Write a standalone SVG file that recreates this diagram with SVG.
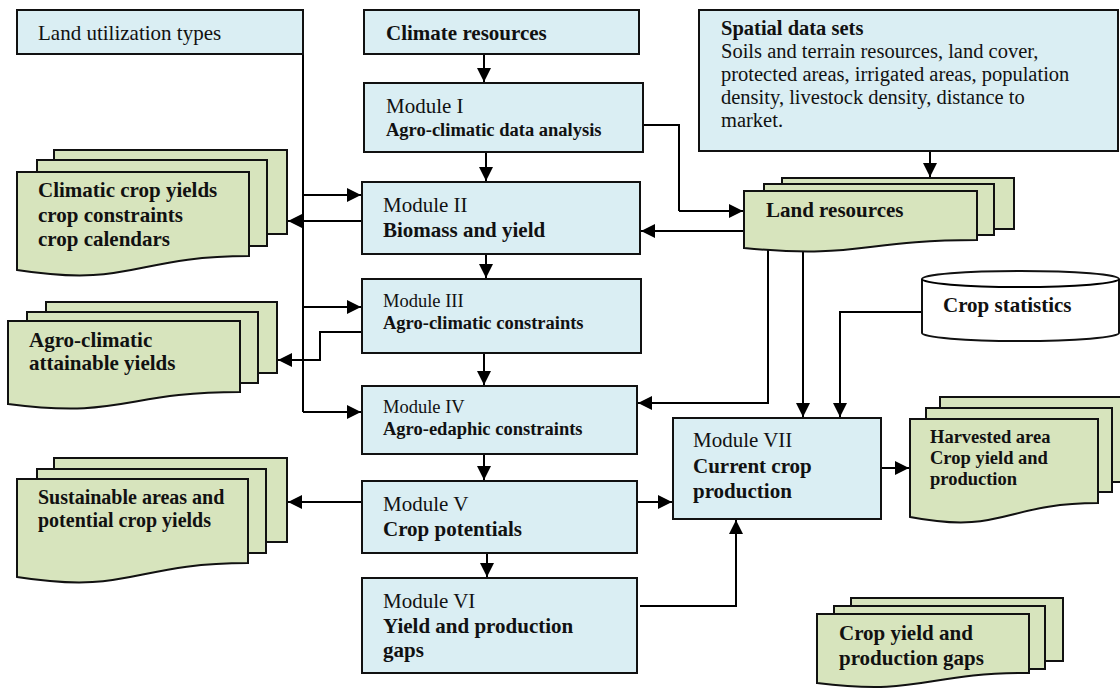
<svg xmlns="http://www.w3.org/2000/svg" width="1120" height="689" viewBox="0 0 1120 689">
<defs>
<marker id="ah" markerUnits="userSpaceOnUse" markerWidth="15" markerHeight="14" refX="14" refY="7" orient="auto">
<path d="M0,0 L14,7 L0,14 Z" fill="#000"/>
</marker>
<style>
.box{fill:#DAEEF3;stroke:#111;stroke-width:2}
.doc{fill:#D7E4BD;stroke:#111;stroke-width:2;stroke-linejoin:miter}
.cyl{fill:#fff;stroke:#111;stroke-width:2}
.ln{fill:none;stroke:#000;stroke-width:2}
.arr{fill:none;stroke:#000;stroke-width:2;marker-end:url(#ah)}
text{font-family:"Liberation Serif","Times New Roman",serif;fill:#111}
.r{font-size:21px}
.b{font-size:21px;font-weight:bold}
.rs{font-size:18.5px}
.bs{font-size:18.5px;font-weight:bold}
.sp{font-size:20.5px}
</style>
</defs>
<rect width="1120" height="689" fill="#fff"/>

<g id="connectors">
<path class="arr" d="M484,54 V82"/>
<path class="arr" d="M486,152 V181"/>
<path class="ln" d="M643,125 H679 V211"/>
<path class="arr" d="M679,211 H743"/>
<path class="arr" d="M744,231 H641"/>
<path class="ln" d="M303,54 V412"/>
<path class="arr" d="M303,195 H361"/>
<path class="arr" d="M303,307 H361"/>
<path class="arr" d="M303,412 H361"/>
<path class="arr" d="M362,221 H288"/>
<path class="arr" d="M362,332 H320 V360 H278"/>
<path class="arr" d="M768,250 V403 H638"/>
<path class="arr" d="M803,252 V417"/>
<path class="arr" d="M922,312 H840 V417"/>
<path class="arr" d="M486,254 V278"/>
<path class="arr" d="M484,353 V385"/>
<path class="arr" d="M484,454 V480"/>
<path class="arr" d="M487,553 V577"/>
<path class="arr" d="M362,502 H288"/>
<path class="arr" d="M637,502 H672"/>
<path class="arr" d="M640,606 H736 V520"/>
<path class="arr" d="M930,151 V177"/>
<path class="arr" d="M881,468 H909"/>
</g>

<g id="land-utilization-types">
<rect class="box" x="17" y="10" width="286" height="44"/>
<text class="r" x="38" y="40">Land utilization types</text>
</g>

<g id="climate-resources">
<rect class="box" x="364" y="10" width="275" height="44"/>
<text class="b" x="386" y="40">Climate resources</text>
</g>

<g id="spatial-data-sets">
<rect class="box" x="699" y="10" width="419" height="141"/>
<text class="sp" x="721" y="35" font-weight="bold">Spatial data sets</text>
<text class="sp" x="721" y="58">Soils and terrain resources, land cover,</text>
<text class="sp" x="721" y="81">protected areas, irrigated areas, population</text>
<text class="sp" x="721" y="104">density, livestock density, distance to</text>
<text class="sp" x="721" y="127">market.</text>
</g>

<g id="module-1">
<rect class="box" x="364" y="83" width="279" height="69"/>
<text class="r" x="386" y="113">Module I</text>
<text class="bs" x="386" y="136">Agro-climatic data analysis</text>
</g>

<g id="module-2">
<rect class="box" x="362" y="182" width="278" height="72"/>
<text class="r" x="383" y="212">Module II</text>
<text class="b" x="383" y="237">Biomass and yield</text>
</g>

<g id="module-3">
<rect class="box" x="362" y="279" width="279" height="74"/>
<text class="rs" x="383" y="307">Module III</text>
<text class="bs" x="383" y="329">Agro-climatic constraints</text>
</g>

<g id="module-4">
<rect class="box" x="362" y="386" width="275" height="68"/>
<text class="rs" x="383" y="413">Module IV</text>
<text class="bs" x="383" y="435">Agro-edaphic constraints</text>
</g>

<g id="module-5">
<rect class="box" x="362" y="481" width="275" height="72"/>
<text class="r" x="383" y="511">Module V</text>
<text class="b" x="383" y="536">Crop potentials</text>
</g>

<g id="module-6">
<rect class="box" x="362" y="578" width="275" height="95"/>
<text class="r" x="383" y="608">Module VI</text>
<text class="b" x="383" y="633">Yield and production</text>
<text class="b" x="383" y="657">gaps</text>
</g>

<g id="module-7">
<rect class="box" x="673" y="418" width="208" height="101"/>
<text class="r" x="693" y="447">Module VII</text>
<text class="b" x="693" y="473">Current crop</text>
<text class="b" x="693" y="498">production</text>
</g>

<g id="land-resources">
<rect class="doc" x="782" y="178" width="232" height="51"/>
<rect class="doc" x="764" y="184" width="230" height="51"/>
<path class="doc" d="M744,191 H977 V240 C860,240 860,259 744,248 Z"/>
<text class="b" x="766" y="217">Land resources</text>
</g>

<g id="crop-statistics">
<path class="cyl" d="M922,279 A98.5,8 0 0 1 1119,279 V333 A98.5,8 0 0 1 922,333 Z"/>
<path class="ln" d="M922,279 A98.5,8 0 0 0 1119,279"/>
<text class="b" x="943" y="312">Crop statistics</text>
</g>

<g id="climatic-crop-yields">
<rect class="doc" x="54" y="150" width="233" height="84"/>
<rect class="doc" x="37" y="160" width="230" height="86"/>
<path class="doc" d="M17,172 H249 V256 C133,256 133,288 17,270 Z"/>
<text class="b" x="38" y="197">Climatic crop yields</text>
<text class="b" x="38" y="222">crop constraints</text>
<text class="b" x="38" y="246">crop calendars</text>
</g>

<g id="agro-climatic-attainable-yields">
<rect class="doc" x="46" y="302" width="231" height="71"/>
<rect class="doc" x="27" y="312" width="231" height="71"/>
<path class="doc" d="M8,321 H240 V392 C124,392 124,419 8,404 Z"/>
<text class="b" x="29" y="347">Agro-climatic</text>
<text class="b" x="29" y="370">attainable yields</text>
</g>

<g id="sustainable-areas">
<rect class="doc" x="54" y="458" width="233" height="84"/>
<rect class="doc" x="37" y="469" width="229" height="84"/>
<path class="doc" d="M17,479 H248 V563 C132,563 132,595 17,577 Z"/>
<text class="b" x="38" y="504" style="font-size:20px">Sustainable areas and</text>
<text class="b" x="38" y="527" style="font-size:20px">potential crop yields</text>
</g>

<g id="harvested-area">
<rect class="doc" x="940" y="397" width="190" height="85"/>
<rect class="doc" x="926" y="408" width="186" height="84"/>
<path class="doc" d="M910,419 H1098 V503 C1004,503 1004,535 910,517 Z"/>
<text class="bs" x="930" y="443">Harvested area</text>
<text class="bs" x="930" y="464">Crop yield and</text>
<text class="bs" x="930" y="485">production</text>
</g>

<g id="crop-yield-production-gaps">
<rect class="doc" x="851" y="598" width="212" height="63"/>
<rect class="doc" x="834" y="606" width="211" height="63"/>
<path class="doc" d="M817,614 H1029 V673 C923,673 923,696 817,683 Z"/>
<text class="b" x="839" y="640">Crop yield and</text>
<text class="b" x="839" y="665">production gaps</text>
</g>
</svg>
